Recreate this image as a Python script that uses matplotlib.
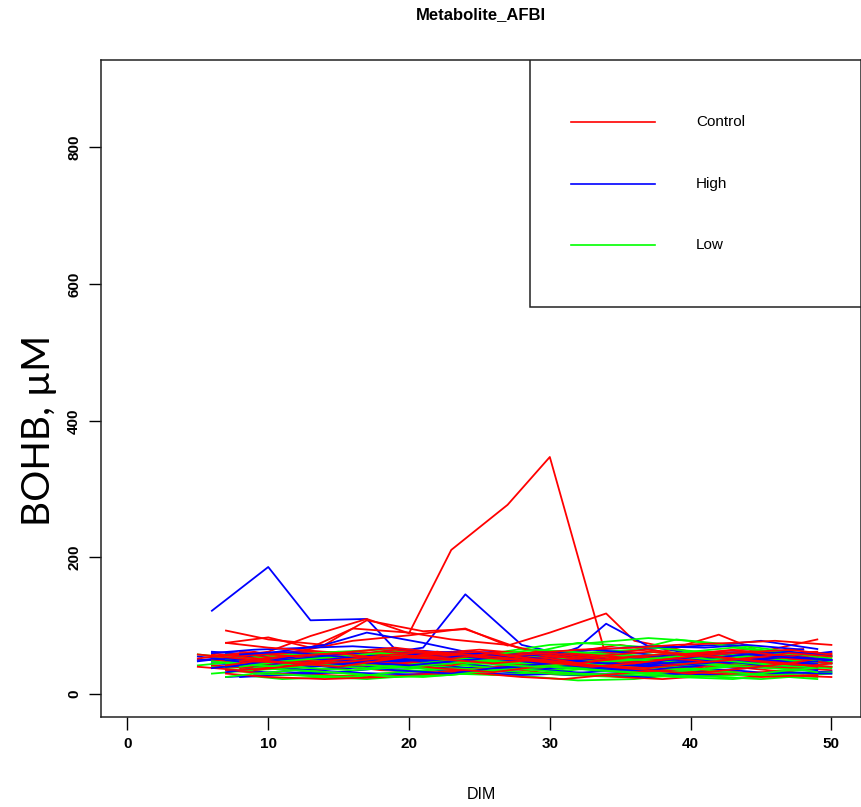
import matplotlib
matplotlib.use("Agg")
import matplotlib.pyplot as plt
from matplotlib.patches import Rectangle

# sampling days (DIM) used by the individual cow profiles
DIM_A = [7, 10, 14, 17, 21, 24, 28, 31, 35, 38, 42, 45, 49]
DIM_B = [6, 9, 13, 16, 20, 23, 27, 30, 34, 37, 41, 44, 48]
DIM_C = [8, 11, 15, 18, 22, 25, 29, 32, 36, 39, 43, 46, 50]
DIM_D = [7, 9, 12, 16, 19, 23, 26, 30, 33, 37, 40, 44, 47, 50]
DIM_E = [5, 8, 12, 15, 19, 22, 26, 29, 33, 36, 40, 43, 47, 50]
DIM_F = [9, 12, 16, 19, 23, 26, 30, 33, 37, 40, 44, 47, 49]

# Control (red)
control = [
    ([7, 10, 13, 17, 20, 23, 27, 30, 34, 37, 41, 44, 48],
     [55, 62, 85, 110, 89, 211, 277, 347, 55, 45, 38, 48, 42]),
    ([6, 9, 13, 16, 20, 24, 27, 30, 34, 36, 40, 44, 48],
     [60, 52, 66, 78, 86, 96, 71, 90, 118, 78, 62, 58, 66]),
    (DIM_A, [93, 80, 72, 108, 92, 95, 66, 60, 72, 62, 87, 62, 80]),
    ([7, 10, 13, 16, 20, 23, 27, 30, 34, 37, 41, 44, 48],
     [75, 83, 68, 96, 90, 80, 72, 58, 50, 45, 52, 48, 55]),
    (DIM_B, [58, 48, 45, 52, 50, 62, 55, 48, 40, 35, 45, 52, 48]),
    (DIM_C, [45, 40, 52, 60, 55, 48, 42, 38, 50, 55, 48, 40, 35]),
    (DIM_A, [50, 55, 48, 42, 45, 52, 60, 55, 48, 42, 50, 58, 62]),
    (DIM_D, [48, 52, 58, 55, 62, 50, 45, 52, 58, 48, 40, 45, 52, 45]),
    (DIM_B, [42, 38, 35, 40, 48, 45, 38, 30, 28, 35, 42, 38, 30]),
    (DIM_C, [62, 58, 55, 50, 60, 65, 58, 52, 45, 50, 58, 55, 60]),
    (DIM_A, [35, 30, 28, 25, 30, 35, 40, 32, 25, 22, 28, 32, 38]),
    (DIM_D, [55, 62, 50, 45, 40, 48, 55, 62, 58, 52, 60, 65, 58, 50]),
    (DIM_B, [50, 45, 55, 62, 58, 52, 48, 55, 60, 65, 55, 48, 42]),
    (DIM_C, [38, 45, 42, 35, 32, 38, 45, 50, 42, 38, 32, 28, 25]),
    (DIM_A, [75, 68, 62, 58, 52, 48, 55, 50, 45, 52, 48, 55, 50]),
    (DIM_B, [52, 58, 62, 55, 48, 55, 62, 58, 52, 45, 42, 50, 58]),
    (DIM_A, [30, 25, 22, 24, 28, 32, 25, 22, 30, 35, 30, 25, 28]),
    (DIM_C, [55, 48, 52, 58, 62, 55, 60, 65, 68, 72, 75, 78, 72]),
    (DIM_E, [52, 60, 48, 55, 65, 58, 50, 62, 55, 48, 58, 65, 52, 45]),
    (DIM_F, [45, 52, 58, 48, 42, 55, 60, 52, 45, 58, 62, 55, 48]),
    (DIM_E, [40, 35, 42, 50, 45, 38, 32, 40, 48, 55, 50, 42, 38, 45]),
    (DIM_F, [60, 55, 62, 68, 58, 52, 48, 55, 62, 58, 50, 45, 52]),
    (DIM_D, [42, 48, 45, 52, 58, 52, 60, 48, 42, 38, 45, 52, 60, 55]),
    (DIM_E, [58, 52, 45, 40, 52, 60, 55, 48, 40, 45, 55, 60, 65, 58]),
    (DIM_F, [35, 42, 48, 55, 50, 45, 52, 42, 35, 30, 38, 45, 40]),
    (DIM_C, [48, 55, 60, 52, 58, 62, 50, 45, 55, 60, 52, 45, 40]),
]

# High (blue)
high = [
    ([6, 10, 13, 17, 19, 23, 27, 30, 34, 37, 41, 44, 48],
     [122, 186, 108, 110, 66, 55, 48, 52, 60, 45, 50, 42, 38]),
    (DIM_A, [45, 52, 48, 56, 68, 146, 72, 58, 50, 55, 47, 52, 44]),
    ([8, 11, 15, 18, 22, 25, 29, 32, 34, 37, 41, 44, 48],
     [40, 48, 55, 62, 58, 50, 47, 68, 103, 70, 56, 60, 50]),
    ([5, 7, 10, 14, 17, 21, 24, 28, 31, 35, 38, 42, 45, 49],
     [50, 50, 45, 52, 58, 48, 55, 50, 45, 52, 48, 55, 60, 52]),
    (DIM_A, [55, 60, 72, 90, 75, 62, 58, 55, 62, 68, 72, 78, 66]),
    (DIM_B, [45, 42, 48, 52, 45, 40, 35, 38, 42, 48, 52, 45, 40]),
    (DIM_C, [35, 30, 32, 38, 42, 35, 30, 28, 32, 38, 35, 30, 33]),
    (DIM_D, [58, 55, 50, 45, 52, 58, 62, 55, 50, 45, 52, 58, 55, 48]),
    (DIM_A, [25, 28, 35, 40, 38, 32, 28, 30, 35, 42, 45, 40, 35]),
    (DIM_B, [62, 58, 52, 55, 60, 55, 50, 45, 48, 55, 58, 62, 55]),
    (DIM_C, [48, 52, 58, 50, 45, 52, 58, 62, 55, 48, 42, 38, 45]),
    (DIM_A, [40, 45, 50, 45, 40, 38, 42, 48, 52, 58, 55, 50, 45]),
    (DIM_D, [32, 38, 42, 48, 52, 45, 40, 35, 30, 25, 32, 38, 42, 50]),
    (DIM_B, [60, 65, 68, 70, 65, 60, 58, 62, 66, 70, 68, 72, 65]),
    (DIM_C, [25, 28, 32, 30, 28, 35, 40, 38, 35, 30, 28, 32, 30]),
    (DIM_E, [48, 55, 62, 58, 50, 45, 52, 58, 65, 60, 52, 48, 55, 62]),
    (DIM_F, [42, 38, 45, 52, 48, 55, 50, 45, 52, 58, 62, 55, 48]),
    (DIM_E, [55, 48, 42, 45, 55, 62, 58, 52, 48, 42, 40, 48, 55, 50]),
    (DIM_F, [30, 35, 40, 35, 30, 38, 45, 40, 35, 42, 48, 42, 38]),
    (DIM_D, [50, 45, 55, 60, 52, 48, 55, 60, 52, 45, 50, 58, 62, 56]),
    (DIM_A, [52, 48, 55, 45, 50, 55, 48, 42, 38, 45, 50, 42, 48]),
    (DIM_B, [38, 45, 52, 48, 42, 48, 55, 50, 45, 40, 45, 52, 45]),
    (DIM_C, [58, 62, 55, 48, 52, 58, 52, 48, 42, 52, 60, 55, 50]),
]

# Low (green)
low = [
    (DIM_A, [35, 30, 25, 22, 28, 35, 32, 28, 25, 30, 35, 28, 25]),
    (DIM_B, [45, 50, 55, 50, 45, 40, 48, 55, 60, 55, 50, 45, 48]),
    (DIM_C, [28, 22, 25, 30, 35, 30, 25, 20, 22, 28, 32, 25, 30]),
    (DIM_D, [55, 52, 48, 45, 50, 55, 60, 72, 75, 82, 78, 70, 62, 55]),
    (DIM_A, [60, 55, 50, 52, 58, 62, 55, 50, 45, 40, 42, 48, 52]),
    (DIM_B, [40, 38, 35, 42, 48, 52, 45, 40, 38, 35, 30, 28, 35]),
    (DIM_C, [50, 45, 40, 38, 42, 48, 55, 60, 65, 80, 70, 62, 58]),
    (DIM_D, [38, 42, 45, 40, 35, 30, 28, 32, 38, 42, 48, 52, 45, 40]),
    (DIM_A, [48, 42, 45, 52, 55, 50, 45, 52, 58, 62, 55, 48, 42]),
    (DIM_B, [30, 35, 40, 45, 40, 35, 42, 48, 45, 40, 35, 30, 25]),
    (DIM_C, [52, 58, 62, 65, 60, 55, 62, 75, 70, 65, 58, 52, 48]),
    (DIM_A, [42, 38, 32, 28, 25, 30, 38, 42, 36, 30, 25, 22, 28]),
    (DIM_B, [55, 50, 45, 48, 52, 45, 38, 35, 42, 50, 55, 60, 58]),
    (DIM_D, [45, 48, 52, 58, 55, 50, 45, 42, 40, 45, 50, 55, 50, 45]),
    (DIM_C, [35, 40, 45, 50, 45, 40, 35, 30, 28, 25, 22, 28, 32]),
    (DIM_E, [42, 48, 52, 45, 40, 48, 55, 50, 45, 40, 35, 42, 48, 55]),
    (DIM_F, [30, 28, 25, 32, 38, 35, 30, 28, 32, 38, 30, 25, 22]),
    (DIM_E, [58, 52, 58, 62, 55, 50, 58, 65, 60, 55, 62, 68, 60, 52]),
    (DIM_F, [38, 45, 40, 35, 42, 48, 42, 36, 30, 35, 42, 38, 32]),
    (DIM_D, [25, 30, 35, 30, 25, 28, 35, 40, 35, 30, 25, 28, 35, 40]),
    (DIM_A, [52, 48, 42, 38, 45, 52, 48, 45, 52, 48, 42, 45, 50]),
    (DIM_B, [48, 42, 38, 35, 40, 45, 52, 48, 42, 38, 45, 40, 35]),
    (DIM_C, [40, 48, 55, 60, 52, 45, 40, 45, 50, 55, 48, 42, 38]),
]

groups = ["Control", "High", "Low"]
colors = {"Control": "#FF0000", "High": "#0000FF", "Low": "#00FF00"}

x_ticks = [0, 10, 20, 30, 40, 50]
y_ticks = [0, 200, 400, 600, 800]

narrow = ["Liberation Sans Narrow", "Liberation Sans", "DejaVu Sans"]

fig = plt.figure(figsize=(8.62, 8.07), dpi=100)
ax = fig.add_axes([0.1168, 0.1111, 0.8820, 0.8146])

# cows plotted one after the other, groups mixed like the original data order
n = max(len(control), len(high), len(low))
for i in range(n):
    for name, cows in [("Low", low), ("High", high), ("Control", control)]:
        if i < len(cows):
            d, v = cows[i]
            ax.plot(d, v, color=colors[name], lw=1.3)

ax.set_xlim(-1.9, 52.1)
ax.set_ylim(-34, 928)
ax.set_xticks(x_ticks)
ax.set_yticks(y_ticks)
ax.set_xticklabels([str(t) for t in x_ticks], family=narrow, fontsize=11,
                   fontweight="bold")
ax.set_yticklabels([str(t) for t in y_ticks], family=narrow, fontsize=11,
                   fontweight="bold", rotation=90, va="center")
ax.tick_params(axis="x", length=9.5, width=1, pad=5)
ax.tick_params(axis="y", length=9, width=1, pad=5)
for s in ax.spines.values():
    s.set_linewidth(1.1)
    s.set_color("#222222")

# legend box like R's legend()
ax.add_patch(Rectangle((0.565, 0.624), 0.435, 0.376, transform=ax.transAxes,
                       facecolor="white", edgecolor="#222222", lw=1.1, zorder=5))
leg_y = [0.9057, 0.8113, 0.7185]
for g, yy in zip(groups, leg_y):
    ax.plot([0.6186, 0.729], [yy, yy], color=colors[g], lw=1.2,
            transform=ax.transAxes, zorder=6)
    ax.text(0.783, yy, g, transform=ax.transAxes, family=narrow, fontsize=11,
            va="center", ha="left", zorder=6)

fig.text(0.558, 0.9814, "Metabolite_AFBI", family=narrow, fontsize=12,
         fontweight="bold", ha="center", va="center")
fig.text(0.558, 0.0149, "DIM", family=narrow, fontsize=11.5,
         ha="center", va="center")
fig.text(0.045, 0.467, "BOHB, \u00b5M", family=["Lato", "DejaVu Sans"],
         fontsize=28, rotation=90, ha="center", va="center")

fig.savefig("out.png", dpi=100)
